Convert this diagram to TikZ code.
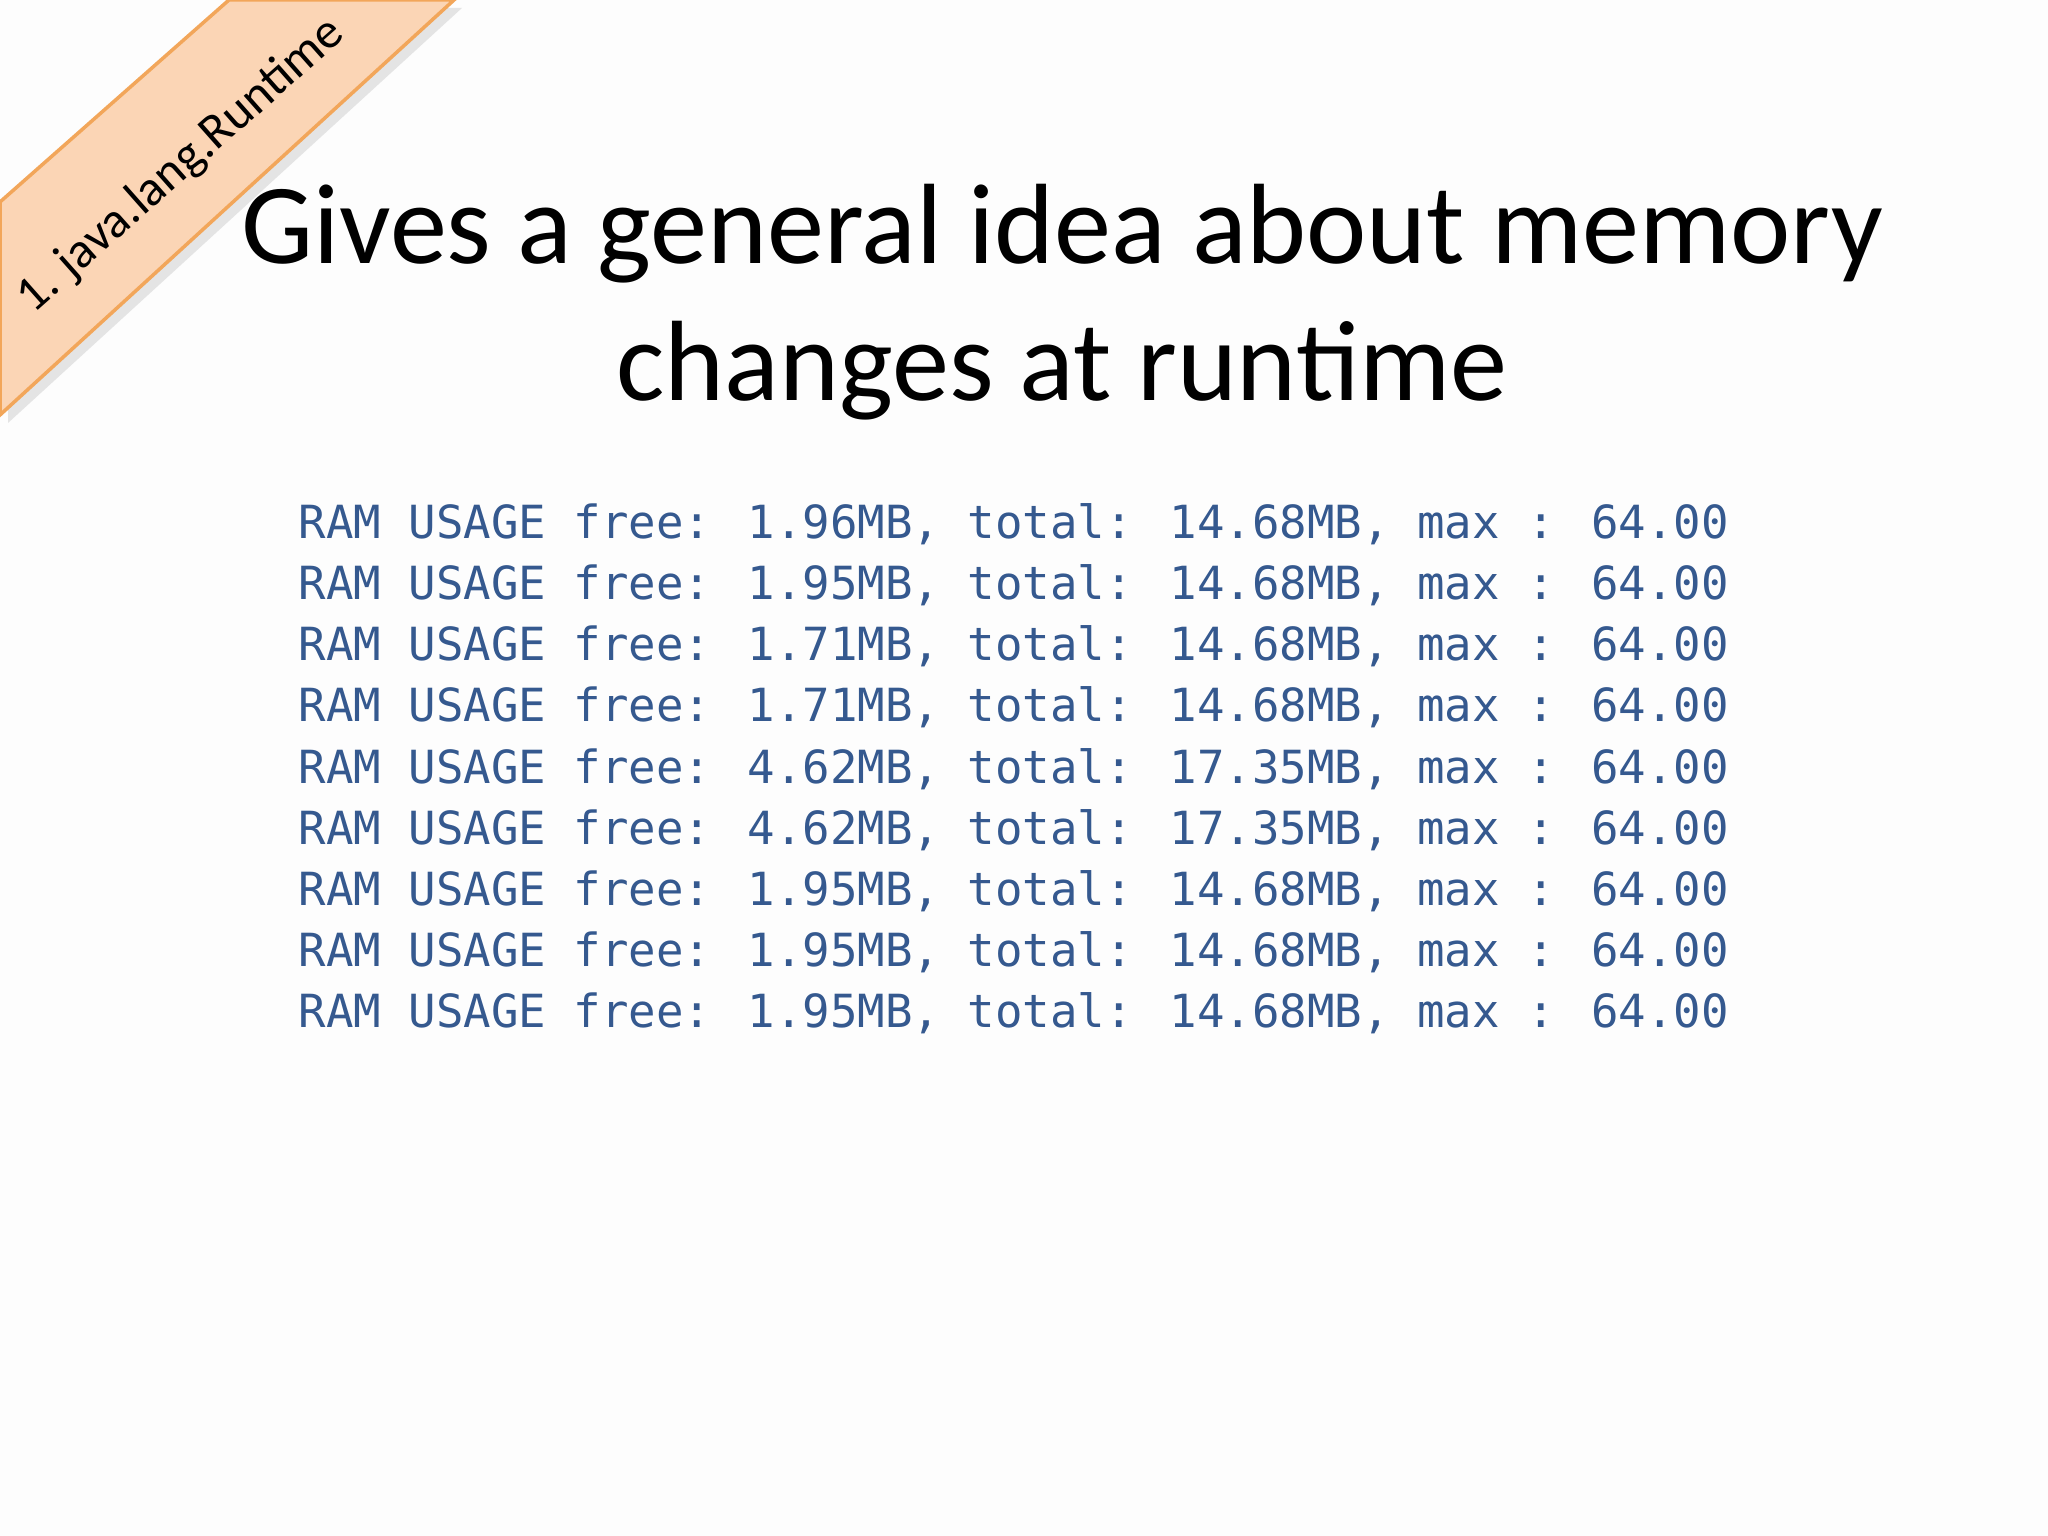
\documentclass[tikz,border=0pt]{standalone}
\usepackage{fontspec}
\setmainfont{Carlito}
\newfontfamily\codefont{DejaVu Sans Mono}
\definecolor{bandfill}{HTML}{FBD5B5}
\definecolor{bandline}{HTML}{F2A65A}
\definecolor{codeblue}{HTML}{35598F}
\definecolor{bg}{HTML}{FDFDFD}
\begin{document}
\begin{tikzpicture}[
  codeline/.style={anchor=west,inner sep=0pt,text=codeblue,font=\codefont\fontsize{13pt}{15pt}\selectfont},
  titleline/.style={inner sep=0pt,font=\fontsize{32.5pt}{38pt}\selectfont}]
\fill[bg] (0,0) rectangle (20.48,15.36);
\useasboundingbox (0,0) rectangle (20.48,15.36);
\fill[gray!40,opacity=0.5] (0.08,13.26) -- (2.37,15.28) -- (4.62,15.28) -- (0.08,11.13) -- cycle;
\filldraw[fill=bandfill,draw=bandline,line width=1pt] (0,13.34) -- (2.29,15.36) -- (4.54,15.36) -- (0,11.21) -- cycle;
\node[rotate=41.5,inner sep=0pt,font=\fontsize{14.3pt}{17pt}\selectfont] (band) at (1.81,13.70) {1. java.lang.Runtime};
\node[titleline] (t1) at (10.62,13.02) {Gives a general idea about memory};
\node[titleline] (t2) at (10.62,11.65) {changes at runtime};
\foreach \f/\t [count=\i] in {1.96/14.68,1.95/14.68,1.71/14.68,1.71/14.68,4.62/17.35,4.62/17.35,1.95/14.68,1.95/14.68,1.95/14.68}{
  \node[codeline] (c\i) at (2.98,{15.36-5.24-(\i-1)*0.612}) {RAM USAGE free: \f MB, total: \t MB, max : 64.00};
}
\end{tikzpicture}
\end{document}
